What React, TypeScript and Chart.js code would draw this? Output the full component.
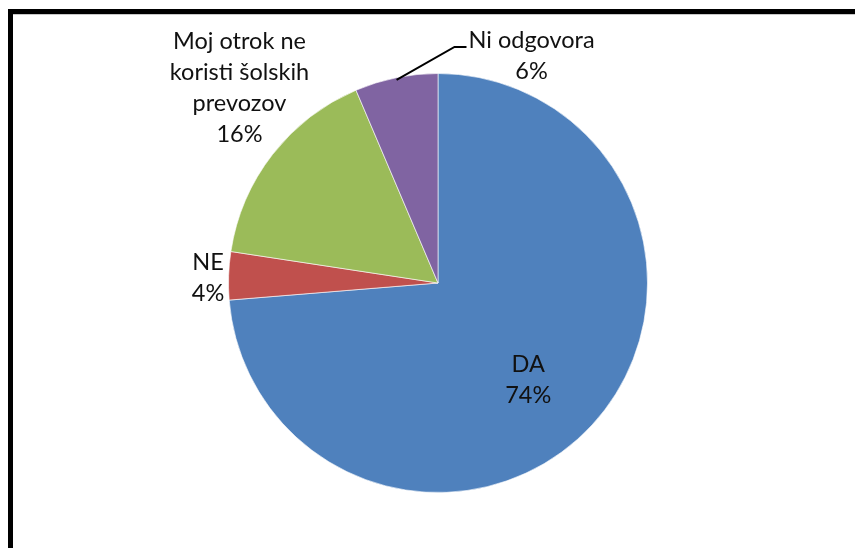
import React, { useEffect, useRef } from "react";
import { Chart, registerables } from "chart.js";

Chart.register(...registerables);

const categories: string[][] = [
  ["DA"],
  ["NE"],
  ["Moj otrok ne", "koristi šolskih", "prevozov"],
  ["Ni odgovora"],
];
const values: number[] = [73.7, 3.7, 16.2, 6.4];
const colors: string[] = ["#4F81BD", "#C0504D", "#9BBB59", "#8064A2"];

// label placement: polar relative to each slice (radius factor, angle offset in deg)
const labelPolar = [
  { rf: 0.66, da: 6.6 },
  { rf: 1.098, da: -2.5 },
  { rf: 1.302, da: 5.5 },
  { rf: 1.139, da: 34.6 },
];

const FONT = "23.5px Lato";
const LINE_H = 31;

const labelsPlugin = {
  id: "pieLabels",
  afterDatasetsDraw(chart: any) {
    const ctx = chart.ctx;
    const meta = chart.getDatasetMeta(0);
    const total = values.reduce((a, b) => a + b, 0);
    ctx.save();
    ctx.font = FONT;
    ctx.fillStyle = "#111";
    ctx.textAlign = "center";
    ctx.textBaseline = "alphabetic";
    meta.data.forEach((arc: any, i: number) => {
      const { x, y, startAngle, endAngle, outerRadius } = arc.getProps(
        ["x", "y", "startAngle", "endAngle", "outerRadius"],
        true
      );
      const mid = (startAngle + endAngle) / 2;
      const p = labelPolar[i];
      const a = mid + (p.da * Math.PI) / 180;
      const cx = x + Math.cos(a) * outerRadius * p.rf;
      const cy = y + Math.sin(a) * outerRadius * p.rf;
      const lines = [...categories[i], Math.round((values[i] / total) * 100) + "%"];
      const n = lines.length;
      const firstBase = cy - ((n - 1) * LINE_H) / 2;
      lines.forEach((t, k) => {
        ctx.fillText(t, cx, firstBase + k * LINE_H);
      });
      if (i === 3) {
        // leader line
        const w = ctx.measureText(lines[0]).width;
        const left = cx - w / 2;
        const sx = x + Math.cos(mid) * outerRadius * 0.99;
        const sy = y + Math.sin(mid) * outerRadius * 0.99;
        ctx.beginPath();
        ctx.strokeStyle = "#000";
        ctx.lineWidth = 2;
        ctx.moveTo(sx, sy);
        ctx.lineTo(left - 14, firstBase - 1);
        ctx.lineTo(left - 2, firstBase - 1);
        ctx.stroke();
      }
    });
    ctx.restore();
  },
};

export default function App() {
  const ref = useRef<HTMLCanvasElement | null>(null);
  useEffect(() => {
    if (!ref.current) return;
    const chart = new Chart(ref.current, {
      type: "pie",
      data: {
        labels: categories.map((c) => c.join(" ")),
        datasets: [
          {
            data: values,
            backgroundColor: colors,
            borderColor: "rgba(255,255,255,0.6)",
            borderWidth: 1,
          },
        ],
      },
      options: {
        animation: false,
        responsive: false,
        layout: { padding: { left: 228, right: 207, top: 73, bottom: 55 } },
        plugins: {
          legend: { display: false },
          tooltip: { enabled: false },
        },
      },
      plugins: [labelsPlugin],
    });
    return () => chart.destroy();
  }, []);
  return (
    <div>
      <canvas
        ref={ref}
        width={855}
        height={548}
        style={{ position: "fixed", left: 0, top: 0, width: 855, height: 548 }}
      />
      <div
        style={{
          position: "fixed",
          left: 8,
          top: 9,
          width: 900,
          height: 600,
          borderTop: "5px solid #000",
          borderLeft: "5px solid #000",
          boxSizing: "border-box",
          pointerEvents: "none",
        }}
      />
      <div
        style={{
          position: "fixed",
          left: 13,
          top: 14,
          width: 900,
          height: 1,
          background: "#c8c8c8",
        }}
      />
    </div>
  );
}
